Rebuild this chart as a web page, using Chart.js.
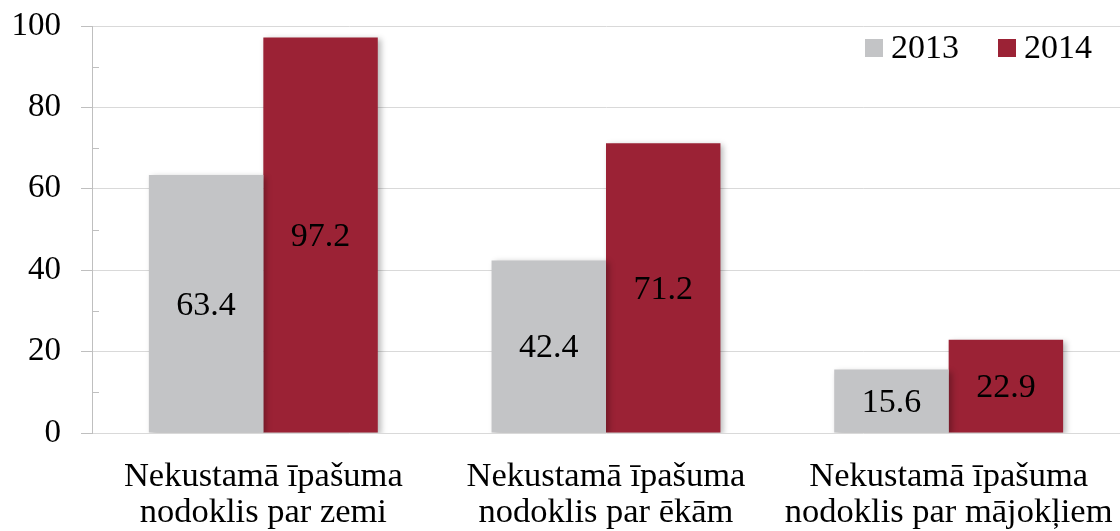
<!DOCTYPE html>
<html>
<head>
<meta charset="utf-8">
<script src="https://cdn.jsdelivr.net/npm/chart.js@4"></script>
<style>
  body { margin: 0; background: #fff; }
  #wrap { width: 1120px; height: 531px; position: relative; }
</style>
</head>
<body>
<div id="wrap"><canvas id="taxChart"></canvas></div>
<script>
// chart data
const categories = [
    ['Nekustamā īpašuma', 'nodoklis par zemi'],
    ['Nekustamā īpašuma', 'nodoklis par ēkām'],
    ['Nekustamā īpašuma', 'nodoklis par mājokļiem']
];
const seriesNames = ['2013', '2014'];
const values2013 = [63.4, 42.4, 15.6];
const values2014 = [97.2, 71.2, 22.9];
const yMin = 0;
const yMax = 100;
const yStep = 20;
const yMinorStep = 10;

const serif = "'Liberation Serif', 'Times New Roman', serif";
const colors = ['#c3c4c6', '#9b2235'];

// soft shadow behind the bars
const barShadow = {
    id: 'barShadow',
    beforeDatasetsDraw(chart) {
        const ctx = chart.ctx;
        ctx.save();
        ctx.shadowColor = 'rgba(0, 0, 0, 0.28)';
        ctx.shadowBlur = 6;
        ctx.shadowOffsetX = 3;
        ctx.shadowOffsetY = 2;
    },
    afterDatasetsDraw(chart) {
        chart.ctx.restore();
    }
};

// minor ticks on the inner side of the y axis
const minorTicks = {
    id: 'minorTicks',
    afterDraw(chart) {
        const ctx = chart.ctx;
        const y = chart.scales.y;
        ctx.save();
        ctx.strokeStyle = '#bfbfbf';
        ctx.lineWidth = 1;
        for (let v = yMin + yMinorStep; v < yMax; v += yStep) {
            const py = Math.round(y.getPixelForValue(v)) + 0.5;
            ctx.beginPath();
            ctx.moveTo(y.right, py);
            ctx.lineTo(y.right + 7, py);
            ctx.stroke();
        }
        ctx.restore();
    }
};

// value in the middle of each bar
const valueLabels = {
    id: 'valueLabels',
    afterDraw(chart) {
        const ctx = chart.ctx;
        ctx.save();
        ctx.font = '34px ' + serif;
        ctx.fillStyle = '#000';
        ctx.textAlign = 'center';
        ctx.textBaseline = 'middle';
        chart.data.datasets.forEach((ds, i) => {
            chart.getDatasetMeta(i).data.forEach((bar, j) => {
                ctx.fillText(ds.data[j].toFixed(1), bar.x, (bar.y + bar.base) / 2 + 2);
            });
        });
        ctx.restore();
    }
};

// legend inside the plot, top right
const innerLegend = {
    id: 'innerLegend',
    afterDraw(chart) {
        const ctx = chart.ctx;
        const area = chart.chartArea;
        const starts = [area.right - 255, area.right - 122];
        ctx.save();
        ctx.font = '34px ' + serif;
        ctx.textBaseline = 'middle';
        chart.data.datasets.forEach((ds, i) => {
            const x = starts[i];
            const y = area.top + 22;
            ctx.fillStyle = ds.backgroundColor;
            ctx.fillRect(x, y - 9, 18, 18);
            ctx.fillStyle = '#000';
            ctx.fillText(ds.label, x + 26, y + 1);
        });
        ctx.restore();
    }
};

const ctx = document.getElementById('taxChart').getContext('2d');
new Chart(ctx, {
    type: 'bar',
    data: {
        labels: categories,
        datasets: [{
            label: seriesNames[0],
            data: values2013,
            backgroundColor: colors[0],
            categoryPercentage: 0.668,
            barPercentage: 1.0
        }, {
            label: seriesNames[1],
            data: values2014,
            backgroundColor: colors[1],
            categoryPercentage: 0.668,
            barPercentage: 1.0
        }]
    },
    options: {
        responsive: true,
        maintainAspectRatio: false,
        animation: false,
        layout: {
            padding: { top: 26, right: 0, left: 0, bottom: 0 }
        },
        plugins: {
            legend: { display: false },
            tooltip: { enabled: false }
        },
        scales: {
            x: {
                grid: { display: false, drawTicks: false },
                border: { display: false },
                ticks: {
                    color: '#000',
                    padding: 26,
                    maxRotation: 0,
                    autoSkip: false,
                    font: { family: serif, size: 34.5, lineHeight: 1.05 }
                },
                afterFit(scale) {
                    scale.height = 98;
                    scale.paddingLeft = 0;
                    scale.paddingRight = 0;
                }
            },
            y: {
                min: yMin,
                max: yMax,
                grid: {
                    color: '#d9d9d9',
                    tickColor: '#bfbfbf',
                    tickLength: 11
                },
                border: { color: '#bfbfbf' },
                ticks: {
                    stepSize: yStep,
                    color: '#000',
                    padding: 20,
                    font: { family: serif, size: 33 }
                },
                afterFit(scale) {
                    scale.width = 92;
                    scale.paddingTop = 0;
                    scale.paddingBottom = 0;
                }
            }
        }
    },
    plugins: [barShadow, minorTicks, valueLabels, innerLegend]
});
</script>
</body>
</html>
